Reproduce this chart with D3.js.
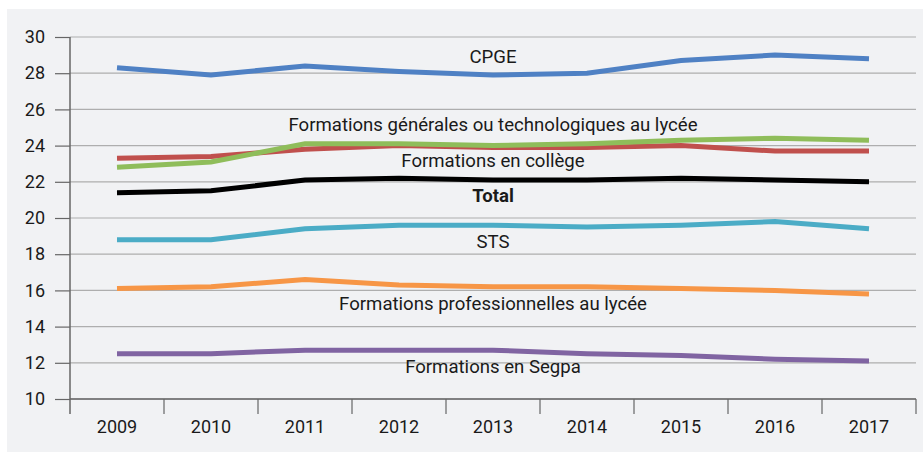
<!DOCTYPE html>
<html>
<head>
<meta charset="utf-8">
<script src="https://cdn.jsdelivr.net/npm/d3@7"></script>
<style>
  body { margin: 0; background: #fff; }
  svg text { font-family: Roboto, "Noto Sans", sans-serif; fill: #1a1a1a; }
</style>
</head>
<body>
<div id="chart"></div>
<script>
// years on the x axis
var years = ["2009", "2010", "2011", "2012", "2013", "2014", "2015", "2016", "2017"];
// y axis ticks
var yTicks = [10, 12, 14, 16, 18, 20, 22, 24, 26, 28, 30];

// series values (average class size)
var cpge = [28.3, 27.9, 28.4, 28.1, 27.9, 28.0, 28.7, 29.0, 28.8];
var college = [23.3, 23.4, 23.8, 24.0, 23.9, 23.9, 24.0, 23.7, 23.7];
var generales = [22.8, 23.1, 24.1, 24.1, 24.0, 24.1, 24.3, 24.4, 24.3];
var total = [21.4, 21.5, 22.1, 22.2, 22.1, 22.1, 22.2, 22.1, 22.0];
var sts = [18.8, 18.8, 19.4, 19.6, 19.6, 19.5, 19.6, 19.8, 19.4];
var pro = [16.1, 16.2, 16.6, 16.3, 16.2, 16.2, 16.1, 16.0, 15.8];
var segpa = [12.5, 12.5, 12.7, 12.7, 12.7, 12.5, 12.4, 12.2, 12.1];

// series names, label placement (value units) and colours
var names = ["CPGE", "Formations en collège", "Formations générales ou technologiques au lycée",
    "Total", "STS", "Formations professionnelles au lycée", "Formations en Segpa"];
var labelAt = [28.55, 22.8, 24.8, 20.9, 18.35, 14.9, 11.45];
var colors = ["#4f81c4", "#c0504d", "#8fbd5a", "#000000", "#4bacc6", "#f79646", "#8064a2"];

var series = [cpge, college, generales, total, sts, pro, segpa];

var width = 923, height = 452,
    margin = {left: 70, right: 7, top: 37, bottom: 53};

var svg = d3.select("#chart").append("svg")
    .attr("width", width).attr("height", height);

// light panel behind the chart
svg.append("rect")
    .attr("x", 7).attr("y", 9)
    .attr("width", width - 7).attr("height", height - 9)
    .attr("fill", "#f1f2f4");

var x = d3.scaleBand().domain(years).range([margin.left, width - margin.right]);
var y = d3.scaleLinear().domain([10, 30]).range([height - margin.bottom, margin.top]);

// horizontal grid lines
svg.append("g")
    .selectAll("line")
    .data(yTicks)
    .enter().append("line")
    .attr("x1", margin.left).attr("x2", width - margin.right)
    .attr("y1", function (d) { return y(d); })
    .attr("y2", function (d) { return y(d); })
    .attr("stroke", "#aeaeae").attr("stroke-width", 1.2);

// y axis
var yAxis = svg.append("g")
    .attr("transform", "translate(" + margin.left + ",0)")
    .call(d3.axisLeft(y).tickValues(yTicks).tickSize(15).tickPadding(10));
yAxis.select(".domain").attr("stroke", "#666").attr("stroke-width", 1.5)
    .attr("d", "M0," + y(30) + "V" + (y(10) + 15));
yAxis.selectAll(".tick line").attr("stroke", "#666").attr("stroke-width", 1.2);
yAxis.selectAll("text").style("font-size", "18px");

// x axis, ticks between the bands
var xAxis = svg.append("g")
    .attr("transform", "translate(0," + y(10) + ")")
    .call(d3.axisBottom(x).tickSize(0).tickPadding(21));
xAxis.select(".domain").attr("stroke", "#666").attr("stroke-width", 1.5)
    .attr("d", "M" + margin.left + ",0H" + (width - margin.right));
xAxis.selectAll("text").style("font-size", "18px");
xAxis.append("g")
    .selectAll("line")
    .data(years)
    .enter().append("line")
    .attr("x1", function (d) { return x(d) + x.bandwidth(); })
    .attr("x2", function (d) { return x(d) + x.bandwidth(); })
    .attr("y1", 0).attr("y2", 15)
    .attr("stroke", "#666").attr("stroke-width", 1.2);

// lines
var line = d3.line()
    .x(function (d, i) { return x(years[i]) + x.bandwidth() / 2; })
    .y(function (d) { return y(d); });

svg.append("g")
    .selectAll("path")
    .data(series)
    .enter().append("path")
    .attr("d", line)
    .attr("fill", "none")
    .attr("stroke", function (d, i) { return colors[i]; })
    .attr("stroke-width", 5);

// series labels, centred on 2013
svg.append("g")
    .selectAll("text")
    .data(names)
    .enter().append("text")
    .attr("x", x("2013") + x.bandwidth() / 2)
    .attr("y", function (d, i) { return y(labelAt[i]); })
    .attr("text-anchor", "middle")
    .style("font-size", "18.6px")
    .style("font-weight", function (d) { return d === "Total" ? "bold" : "normal"; })
    .text(function (d) { return d; });
</script>
</body>
</html>
